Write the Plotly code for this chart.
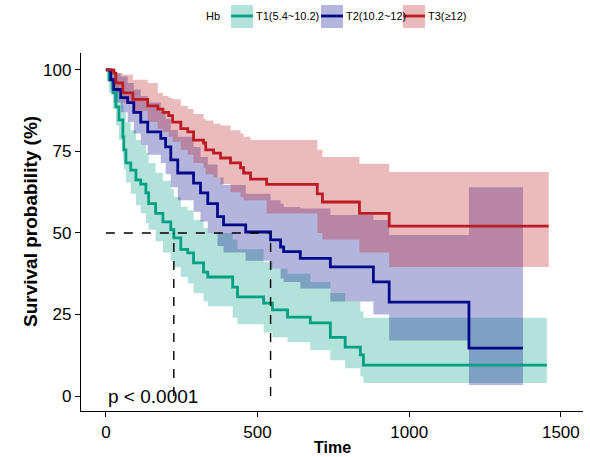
import plotly.graph_objects as go

# ---------------- data ----------------
groups = ["T1(5.4~10.2)", "T2(10.2~12)", "T3(≥12)"]
legend_title = "Hb"

t1_time = [0, 10, 23, 33, 43, 56, 59, 66, 82, 99, 115, 132, 141, 164, 188, 214, 224, 247, 270, 289,
           322, 336, 418, 434, 520, 549, 599, 674, 740, 789, 839, 849, 1454]
t1_surv = [100, 97, 93, 88.7, 84.7, 79.5, 75.5, 71.5, 69.3, 66.3, 65, 62.3, 59, 56, 53.4, 51, 48.5, 45, 43.9, 40.8,
           38, 36.5, 33.4, 30.4, 28.5, 26.4, 24.2, 22.4, 18, 15, 12.6, 9.5, 9.5]
t1_upper = [100, 100, 98, 95, 92.5, 89, 87, 84, 81.5, 78.5, 77, 74.5, 71.5, 68.5, 66, 63.5, 61, 58, 57, 54,
            51.5, 50, 48, 45, 41, 39, 37.5, 35, 31.6, 29, 26, 24, 24]
t1_lower = [100, 93, 88, 83, 78.5, 72.5, 69.5, 65.5, 62, 58.5, 56, 53, 51, 47.5, 44, 41.5, 39.5, 36.5, 34.5, 31.5,
            29, 27.5, 24, 22, 19.5, 18, 16.5, 14, 11, 8.5, 6, 4, 4]

t2_time = [0, 16, 26, 49, 72, 92, 115, 138, 181, 197, 214, 237, 289, 312, 336, 368, 388, 461, 543, 576,
           586, 641, 740, 882, 934, 1197, 1375]
t2_surv = [100, 97, 94, 91.5, 90, 87, 84, 81, 79, 76.4, 72.4, 68.4, 65.3, 62.3, 59, 55, 52.5, 50.3, 47.9, 45.7,
           44.3, 42.2, 39.6, 35, 28.8, 14.7, 14.7]
t2_upper = [100, 100, 99, 98, 96, 94, 92, 90, 87, 85, 81.6, 79.5, 76.4, 73.3, 71, 67, 64.7, 62, 60, 59,
            58, 57.5, 55.5, 54, 49.4, 64, 64]
t2_lower = [100, 94, 90, 87, 84, 80.5, 77, 74, 71.5, 68, 64, 60, 56.5, 53.5, 50, 46, 44, 41.5, 39, 36,
            35, 33, 29, 25, 17, 3.4, 3.4]

t3_time = [0, 26, 33, 56, 89, 138, 171, 188, 207, 220, 247, 270, 289, 322, 329, 355, 378, 411, 444, 454,
           477, 530, 697, 714, 836, 934, 1460]
t3_surv = [100, 99, 96, 93, 91, 89, 88, 87, 86, 84, 82, 81, 78.5, 77.6, 75.5, 74.5, 73, 71.5, 70, 68.4,
           66.5, 64.9, 62, 59.5, 56, 52.1, 52.1]
t3_upper = [100, 100, 99, 98.5, 97, 96, 93, 92, 91.5, 91, 89, 88, 86.5, 85, 84.5, 83.5, 83, 81.5, 80.5, 79.5,
            78.5, 78.5, 75.5, 73.3, 71.2, 68.7, 68.7]
t3_lower = [100, 97, 93, 90, 87.5, 84, 82, 81, 79.5, 78, 75.5, 74, 71.5, 70, 68, 67, 65, 62.5, 61, 60,
            60, 56, 50, 48, 44, 39.6, 39.6]

median_times = [224, 543]
median_level = 50
p_text = "p < 0.0001"

x_ticks = [0, 500, 1000, 1500]
y_ticks = [0, 25, 50, 75, 100]
x_title = "Time"
y_title = "Survival probability (%)"

# ---------------- style ----------------
line_colors = ["#04A084", "#02098A", "#BD1B24"]
fill_colors = ["rgba(4,160,132,0.30)", "rgba(2,9,138,0.30)", "rgba(189,27,36,0.30)"]
FONT = "Liberation Sans, Arial, sans-serif"

W, H = 590, 457
ML, MR, MT, MB = 81, 7, 53, 46
PW, PH = W - ML - MR, H - MT - MB


def px_x(px):
    return (px - ML) / PW


def px_y(py):
    return (H - MB - py) / PH


series = [
    (t1_time, t1_surv, t1_upper, t1_lower),
    (t2_time, t2_surv, t2_upper, t2_lower),
    (t3_time, t3_surv, t3_upper, t3_lower),
]

fig = go.Figure()

# confidence ribbons
for i, (tt, ss, up, lo) in enumerate(series):
    fig.add_trace(go.Scatter(x=tt, y=lo, mode="lines", line=dict(width=0, shape="hv"),
                             hoverinfo="skip", showlegend=False))
    fig.add_trace(go.Scatter(x=tt, y=up, mode="lines", line=dict(width=0, shape="hv"),
                             fill="tonexty", fillcolor=fill_colors[i],
                             hoverinfo="skip", showlegend=False))

# survival curves
for i, (tt, ss, up, lo) in enumerate(series):
    fig.add_trace(go.Scatter(x=tt, y=ss, mode="lines", name=groups[i],
                             line=dict(color=line_colors[i], width=2.8, shape="hv"),
                             showlegend=False))

# median lines
fig.add_trace(go.Scatter(x=[0, max(median_times)], y=[median_level, median_level], mode="lines",
                         line=dict(color="black", width=1.4, dash="dash"), showlegend=False))
for mt in median_times:
    fig.add_trace(go.Scatter(x=[mt, mt], y=[0, median_level], mode="lines",
                             line=dict(color="black", width=1.4, dash="dash"), showlegend=False))

annotations = [
    dict(x=0, y=0, xref="x", yref="y", text=p_text, showarrow=False,
         xanchor="left", yanchor="middle", font=dict(size=19, color="black", family=FONT)),
    dict(x=0.5, y=px_y(447), xref="paper", yref="paper", text="<b>%s</b>" % x_title, showarrow=False,
         xanchor="center", yanchor="middle", font=dict(size=16, color="black", family=FONT)),
    dict(x=px_x(30), y=px_y(222), xref="paper", yref="paper", text="<b>%s</b>" % y_title, showarrow=False,
         textangle=-90, xanchor="center", yanchor="middle", font=dict(size=19, color="black", family=FONT)),
]

# manual legend (top)
shapes = []
leg_y = 16
annotations.append(dict(x=px_x(204), y=px_y(leg_y), xref="paper", yref="paper", text=legend_title,
                        showarrow=False, xanchor="left", yanchor="middle",
                        font=dict(size=11, color="black", family=FONT)))
box_lefts = [231, 321, 403]
for i, bl in enumerate(box_lefts):
    shapes.append(dict(type="rect", xref="paper", yref="paper",
                       x0=px_x(bl), x1=px_x(bl + 22), y0=px_y(28), y1=px_y(5),
                       fillcolor=fill_colors[i], line=dict(width=0), layer="above"))
    shapes.append(dict(type="line", xref="paper", yref="paper",
                       x0=px_x(bl), x1=px_x(bl + 22), y0=px_y(leg_y), y1=px_y(leg_y),
                       line=dict(color=line_colors[i], width=2.8), layer="above"))
    annotations.append(dict(x=px_x(bl + 23), y=px_y(leg_y), xref="paper", yref="paper", text=groups[i],
                            showarrow=False, xanchor="left", yanchor="middle",
                            font=dict(size=11, color="black", family=FONT)))

fig.update_layout(
    width=W, height=H,
    margin=dict(l=ML, r=MR, t=MT, b=MB, autoexpand=False),
    paper_bgcolor="white", plot_bgcolor="white",
    font=dict(family=FONT, color="black"),
    showlegend=False,
    annotations=annotations,
    shapes=shapes,
    xaxis=dict(range=[-82, 1573], tickvals=x_ticks, ticks="outside", ticklen=5, tickwidth=1.3,
               tickcolor="black", showline=True, linecolor="black", linewidth=1.4,
               showgrid=False, zeroline=False, tickfont=dict(size=17, color="black"),
               automargin=False),
    yaxis=dict(range=[-4.6, 105.2], tickvals=y_ticks, ticks="outside", ticklen=5, tickwidth=1.3,
               tickcolor="black", showline=True, linecolor="black", linewidth=1.4,
               showgrid=False, zeroline=False, tickfont=dict(size=17, color="black"),
               automargin=False),
)

fig.write_html("out.html")
